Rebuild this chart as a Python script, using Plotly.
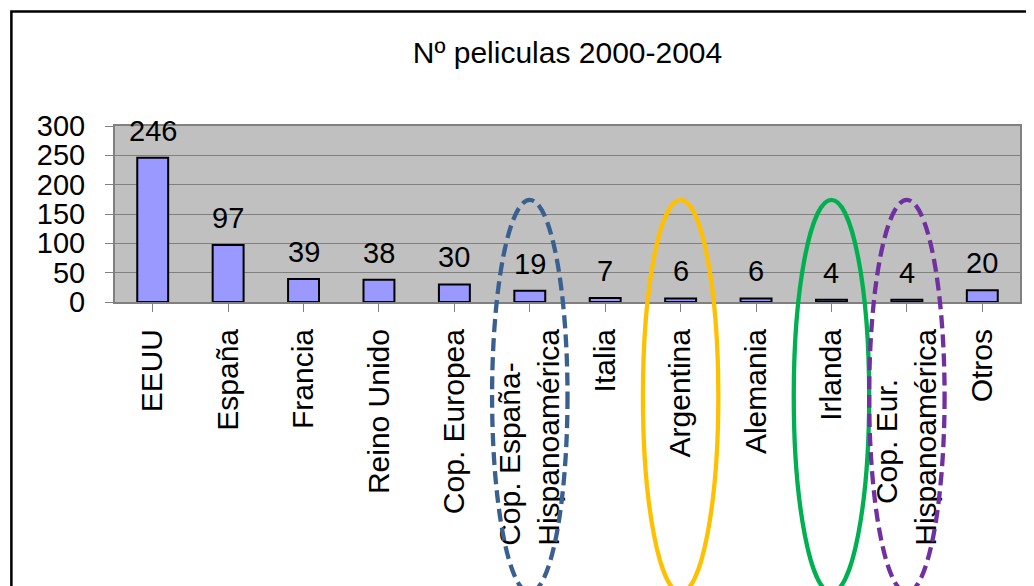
import plotly.graph_objects as go

NB = "\u00a0"
categories = ["EEUU", "España", "Francia", "Reino Unido", "Cop. Europea",
              "Cop. España-" + NB * 4 + "<br>Hispanoamérica", "Italia", "Argentina", "Alemania",
              "Irlanda", "Cop. Eur." + NB * 6 + "<br>Hispanoamérica", "Otros"]
values = [246, 97, 39, 38, 30, 19, 7, 6, 6, 4, 4, 20]
y_ticks = [0, 50, 100, 150, 200, 250, 300]
title_text = "Nº peliculas 2000-2004"

# highlighted categories: (index, color, dash)
highlights = [(5, "#3A6090", "13px,6px"), (7, "#FFC000", "solid"),
              (9, "#00B050", "solid"), (10, "#7030A0", "13px,6px")]

FONT = "Liberation Sans, Arial, sans-serif"
xs = list(range(len(categories)))

# page body has an 8px default margin; the figure is sized to fill the rest
W, H = 1026, 578

fig = go.Figure()
fig.add_trace(go.Bar(
    x=xs, y=values,
    marker=dict(color="#9999FF", line=dict(color="black", width=2)),
    width=0.41,
))

annotations = [dict(x=x, y=v, xref="x", yref="y", text=str(v), showarrow=False,
                    yanchor="bottom", yshift=9,
                    font=dict(size=29, family=FONT, color="black"))
               for x, v in zip(xs, values)]

shapes = []
for idx, col, dash in highlights:
    shapes.append(dict(type="circle", xref="x", yref="paper",
                       x0=idx - 0.5, x1=idx + 0.5, y0=-1.65, y1=0.58,
                       line=dict(color=col, width=4.3, dash=dash), layer="above"))
# outer chart frame
shapes.append(dict(type="rect", xref="paper", yref="paper",
                   x0=-0.1145, x1=1.2, y0=-2.0, y1=1.651,
                   line=dict(color="black", width=2.5), layer="above"))

fig.update_layout(
    width=W, height=H,
    margin=dict(l=107, r=14, t=118, b=284, autoexpand=False),
    paper_bgcolor="white", plot_bgcolor="#C0C0C0",
    showlegend=False,
    font=dict(family=FONT, color="black", size=29),
    title=dict(text=title_text, x=0.5, xanchor="center", xref="paper",
               y=1 - 44 / H, yanchor="middle",
               font=dict(size=30, family=FONT, color="black")),
    shapes=shapes,
    annotations=annotations,
    bargap=0.59,
)
fig.update_xaxes(
    tickmode="array", tickvals=xs, ticktext=categories,
    range=[-0.5, len(categories) - 0.5],
    tickangle=-90, tickson="boundaries", ticks="outside", ticklen=8,
    tickcolor="#808080", tickwidth=1, automargin=False,
    showline=True, linecolor="#808080", linewidth=2, mirror=True,
    showgrid=False, tickfont=dict(size=30, family=FONT, color="black"),
    ticklabelstandoff=5,
)
fig.update_yaxes(
    range=[0, 300], tickvals=y_ticks, ticks="outside", ticklen=8,
    tickcolor="#808080", tickwidth=1, automargin=False,
    showline=True, linecolor="#808080", linewidth=2, mirror=True,
    showgrid=True, gridcolor="#808080", gridwidth=1,
    tickfont=dict(size=29, family=FONT, color="black"),
    ticklabelstandoff=14, zeroline=False,
)

fig.write_html("out.html")
